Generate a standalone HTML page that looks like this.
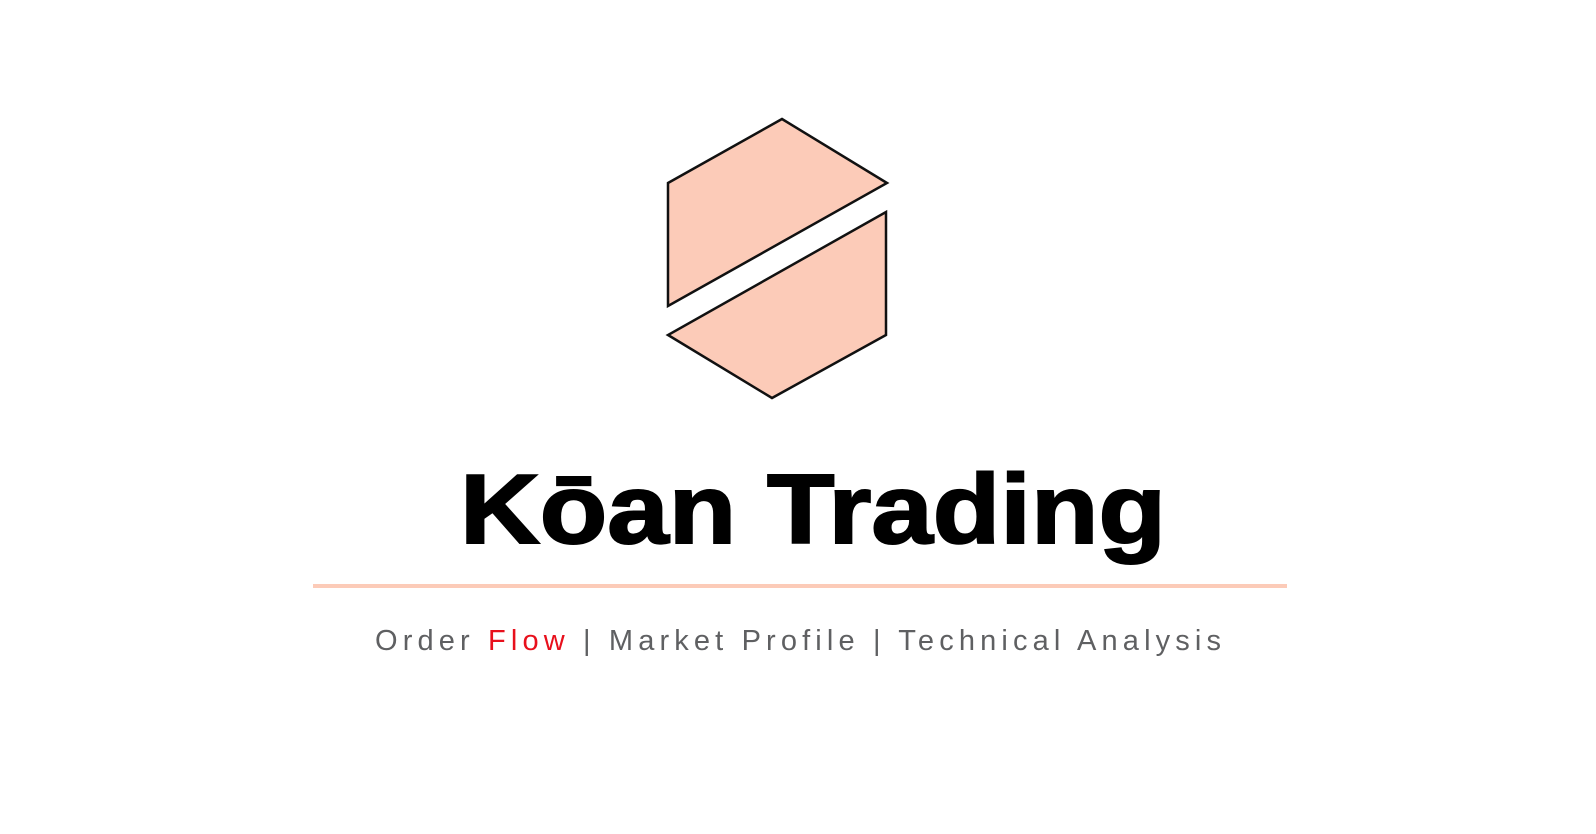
<!DOCTYPE html>
<html>
<head>
<meta charset="utf-8">
<style>
  html,body{margin:0;padding:0;background:#fff;}
  svg{display:block;}
</style>
</head>
<body>
<svg width="1596" height="834" viewBox="0 0 1596 834" xmlns="http://www.w3.org/2000/svg">
  <rect x="0" y="0" width="1596" height="834" fill="#ffffff"/>
  <g stroke="#111" stroke-width="2.5" stroke-linejoin="miter" fill="#fccbb8">
    <polygon points="668,183 782,119 887,183 668,306"/>
    <polygon points="886,212 886,335 772,398 668,335"/>
  </g>
  <text x="460" y="543" textLength="706" lengthAdjust="spacingAndGlyphs"
        font-family="'Liberation Sans', sans-serif" font-weight="bold" font-size="98" fill="#000" stroke="#000" stroke-width="2">Kōan Trading</text>
  <rect x="313" y="584" width="974" height="4" fill="#fccbb8"/>
  <text x="375" y="650" textLength="846" lengthAdjust="spacing"
        font-family="'Liberation Sans', sans-serif" font-size="29" fill="#5f6062">Order <tspan fill="#e8101c">Flow</tspan> | Market Profile | Technical Analysis</text>
</svg>
</body>
</html>
